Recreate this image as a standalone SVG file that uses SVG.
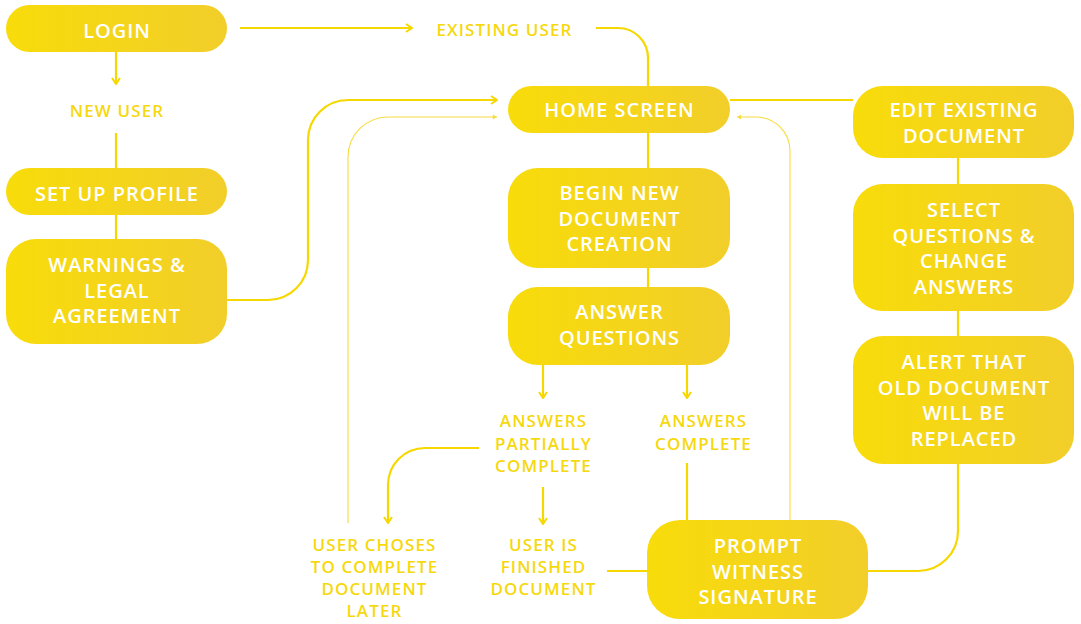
<svg xmlns="http://www.w3.org/2000/svg" width="1081" height="624" viewBox="0 0 1081 624">
  <defs>
    <linearGradient id="boxFill" x1="0" y1="0" x2="1" y2="0">
      <stop offset="0" stop-color="#F8DC0A"/>
      <stop offset="1" stop-color="#F2CE2A"/>
    </linearGradient>
    <marker id="arrow" viewBox="0 0 10 10" refX="9" refY="5" markerWidth="10" markerHeight="10" markerUnits="userSpaceOnUse" orient="auto">
      <path d="M3,1 L9,5 L3,9" fill="none" stroke="#F6D800" stroke-width="2"/>
    </marker>
    <marker id="arrowThin" viewBox="0 0 10 10" refX="9" refY="5" markerWidth="6" markerHeight="6" markerUnits="userSpaceOnUse" orient="auto">
      <path d="M2,1 L9,5 L2,9 Z" fill="#F6DC40"/>
    </marker>
    <style>
      .box { fill: url(#boxFill); }
      .boxText { font-family: "Open Sans", "Liberation Sans", sans-serif; font-weight: 600; font-size: 20px; fill: #ffffff; text-anchor: middle; letter-spacing: 0.95px; }
      .label { font-family: "Open Sans", "Liberation Sans", sans-serif; font-weight: 600; font-size: 17px; fill: #F6D80E; text-anchor: middle; letter-spacing: 1.1px; }
      .link { fill: none; stroke: #F6D800; stroke-width: 2.2; }
      .thin { fill: none; stroke: #F6DC40; stroke-width: 1.1; }
    </style>
  </defs>
  <rect width="1081" height="624" fill="#ffffff"/>

  <!-- connectors -->
  <g id="connectors">
    <path class="link" d="M116,52 V84" marker-end="url(#arrow)"/>
    <path class="link" d="M116,133 V168"/>
    <path class="link" d="M116,215 V239"/>
    <path class="link" d="M240,28 H412" marker-end="url(#arrow)"/>
    <path class="link" d="M596,28 H618 A30,30 0 0 1 648,58 V86"/>
    <path class="link" d="M227,300 H268 A40,40 0 0 0 308,260 V140 A40,40 0 0 1 348,100 H497" marker-end="url(#arrow)"/>
    <path class="thin" d="M348,523 V157 A40,40 0 0 1 388,117 H497" marker-end="url(#arrowThin)"/>
    <path class="thin" d="M790,520 V151 A34,34 0 0 0 756,117 H737" marker-end="url(#arrowThin)"/>
    <path class="link" d="M730,100 H853"/>
    <path class="link" d="M648,133 V168"/>
    <path class="link" d="M648,268 V287"/>
    <path class="link" d="M543,365 V398" marker-end="url(#arrow)"/>
    <path class="link" d="M687,365 V398" marker-end="url(#arrow)"/>
    <path class="link" d="M479,448 H425 A37,37 0 0 0 388,485 V523" marker-end="url(#arrow)"/>
    <path class="link" d="M543,487 V524" marker-end="url(#arrow)"/>
    <path class="link" d="M687,463 V520"/>
    <path class="link" d="M607,571 H647"/>
    <path class="link" d="M958,158 V184"/>
    <path class="link" d="M958,311 V336"/>
    <path class="link" d="M958,464 V531 A40,40 0 0 1 918,571 H868"/>
  </g>

  <!-- nodes -->
  <g id="login">
    <rect class="box" x="6" y="5" width="221" height="47" rx="23.5"/>
    <text class="boxText" x="117" y="38">LOGIN</text>
  </g>
  <g id="existing-user">
    <text class="label" x="504.5" y="36">EXISTING USER</text>
  </g>
  <g id="new-user">
    <text class="label" x="117" y="117">NEW USER</text>
  </g>
  <g id="set-up-profile">
    <rect class="box" x="6" y="168" width="221" height="47" rx="23.5"/>
    <text class="boxText" x="117" y="201">SET UP PROFILE</text>
  </g>
  <g id="warnings">
    <rect class="box" x="6" y="239" width="221" height="105" rx="30"/>
    <text class="boxText" x="117" y="272">WARNINGS &amp;<tspan x="117" dy="25.5">LEGAL</tspan><tspan x="117" dy="25.5">AGREEMENT</tspan></text>
  </g>
  <g id="home-screen">
    <rect class="box" x="508" y="86" width="222" height="47" rx="23.5"/>
    <text class="boxText" x="619.5" y="117">HOME SCREEN</text>
  </g>
  <g id="begin-new-document">
    <rect class="box" x="508" y="168" width="222" height="100" rx="30"/>
    <text class="boxText" x="619.5" y="200">BEGIN NEW<tspan x="619.5" dy="25.5">DOCUMENT</tspan><tspan x="619.5" dy="25.5">CREATION</tspan></text>
  </g>
  <g id="answer-questions">
    <rect class="box" x="508" y="287" width="222" height="78" rx="30"/>
    <text class="boxText" x="619.5" y="319">ANSWER<tspan x="619.5" dy="26">QUESTIONS</tspan></text>
  </g>
  <g id="answers-partially-complete">
    <text class="label" x="543.5" y="427">ANSWERS<tspan x="543.5" dy="22.5">PARTIALLY</tspan><tspan x="543.5" dy="22.5">COMPLETE</tspan></text>
  </g>
  <g id="answers-complete">
    <text class="label" x="703.5" y="427">ANSWERS<tspan x="703.5" dy="22.5">COMPLETE</tspan></text>
  </g>
  <g id="user-choses-later">
    <text class="label" x="374.5" y="551">USER CHOSES<tspan x="374.5" dy="22">TO COMPLETE</tspan><tspan x="374.5" dy="22">DOCUMENT</tspan><tspan x="374.5" dy="22">LATER</tspan></text>
  </g>
  <g id="user-finished">
    <text class="label" x="543.5" y="551">USER IS<tspan x="543.5" dy="22">FINISHED</tspan><tspan x="543.5" dy="22">DOCUMENT</tspan></text>
  </g>
  <g id="prompt-witness-signature">
    <rect class="box" x="647" y="520" width="221" height="99" rx="33"/>
    <text class="boxText" x="758" y="553">PROMPT<tspan x="758" dy="25.5">WITNESS</tspan><tspan x="758" dy="25.5">SIGNATURE</tspan></text>
  </g>
  <g id="edit-existing-document">
    <rect class="box" x="853" y="86" width="221" height="72" rx="30"/>
    <text class="boxText" x="964" y="117">EDIT EXISTING<tspan x="964" dy="26">DOCUMENT</tspan></text>
  </g>
  <g id="select-questions">
    <rect class="box" x="853" y="184" width="221" height="127" rx="30"/>
    <text class="boxText" x="964" y="217">SELECT<tspan x="964" dy="25.5">QUESTIONS &amp;</tspan><tspan x="964" dy="25.5">CHANGE</tspan><tspan x="964" dy="25.5">ANSWERS</tspan></text>
  </g>
  <g id="alert-replaced">
    <rect class="box" x="853" y="336" width="221" height="128" rx="30"/>
    <text class="boxText" x="964" y="369">ALERT THAT<tspan x="964" dy="25.5">OLD DOCUMENT</tspan><tspan x="964" dy="25.5">WILL BE</tspan><tspan x="964" dy="25.5">REPLACED</tspan></text>
  </g>
</svg>
